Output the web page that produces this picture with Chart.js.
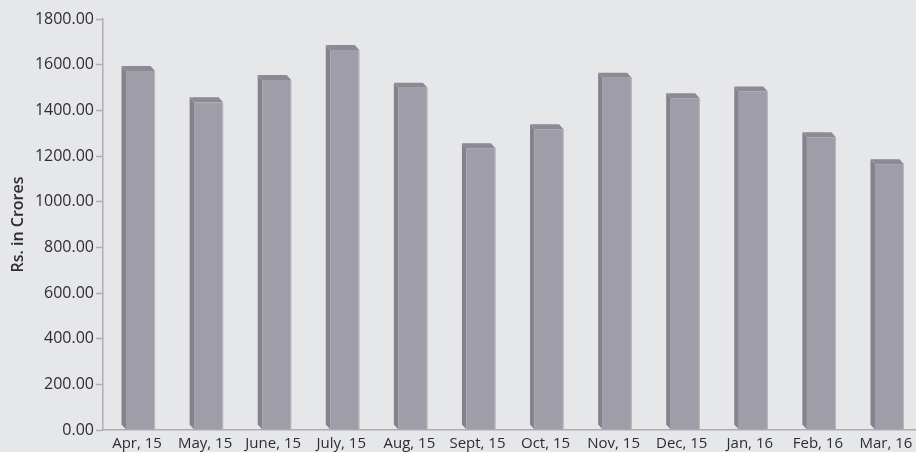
<!DOCTYPE html>
<html>
<head>
<meta charset="utf-8">
<script src="https://cdn.jsdelivr.net/npm/chart.js@4.4.1/dist/chart.umd.min.js"></script>
<style>
  html, body { margin: 0; padding: 0; background: #e6e7e9; }
  #wrap { width: 916px; height: 452px; overflow: hidden; position: relative; }
  #chart { display: block; }
</style>
</head>
<body>
<div id="wrap"><canvas id="chart" width="920" height="452"></canvas></div>
<script>
const months = ["Apr, 15", "May, 15", "June, 15", "July, 15", "Aug, 15", "Sept, 15",
  "Oct, 15", "Nov, 15", "Dec, 15", "Jan, 16", "Feb, 16", "Mar, 16"];
const crores = [1572, 1435, 1533, 1664, 1499, 1234, 1317, 1543, 1453, 1482, 1282, 1164];
const yTicks = [0, 200, 400, 600, 800, 1000, 1200, 1400, 1600, 1800];

const FONT = "'Open Sans', 'Noto Sans', sans-serif";

// draws each bar as a little 3d block: left side, top and front face
const blockPlugin = {
  id: "blocks",
  afterDatasetsDraw(chart) {
    const { ctx } = chart;
    const meta = chart.getDatasetMeta(0);
    const dx = 4.5;
    const dy = 5;
    const shift = 3.5;
    ctx.save();
    meta.data.forEach((bar) => {
      const half = bar.width / 2;
      const l = bar.x - half + shift;
      const r = bar.x + half + shift;
      const top = bar.y;
      const base = bar.base;

      // side
      ctx.fillStyle = "#83828d";
      ctx.beginPath();
      ctx.moveTo(l, top);
      ctx.lineTo(l - dx, top - dy);
      ctx.lineTo(l - dx, base - dy);
      ctx.lineTo(l, base);
      ctx.closePath();
      ctx.fill();

      // top
      ctx.fillStyle = "#8b8a95";
      ctx.beginPath();
      ctx.moveTo(l, top);
      ctx.lineTo(l - dx, top - dy);
      ctx.lineTo(r - dx, top - dy);
      ctx.lineTo(r, top);
      ctx.closePath();
      ctx.fill();

      // front
      ctx.fillStyle = "#9e9da8";
      ctx.fillRect(l, top, r - l, base - top);
      ctx.fillStyle = "#b9b9c1";
      ctx.fillRect(r - 1, top, 1, base - top);
    });
    ctx.restore();
  },
};

new Chart(document.getElementById("chart"), {
  type: "bar",
  data: {
    labels: months,
    datasets: [{
      data: crores,
      backgroundColor: "rgba(0,0,0,0)",
      barThickness: 29,
    }],
  },
  options: {
    responsive: false,
    animation: false,
    layout: { padding: { top: 19, left: 0, right: 0, bottom: 0 } },
    plugins: { legend: { display: false }, tooltip: { enabled: false } },
    scales: {
      x: {
        afterFit: (scale) => { scale.height = 22; },
        grid: { drawOnChartArea: false, drawTicks: false },
        border: { color: "#aeaeb2", width: 1.5 },
        ticks: { color: "#2e2e30", font: { family: FONT, size: 15 }, padding: 5, maxRotation: 0, autoSkip: false },
      },
      y: {
        min: 0,
        max: 1800,
        afterFit: (scale) => { scale.width = 103; },
        afterBuildTicks: (scale) => {
          scale.ticks = yTicks.map((v) => ({ value: v }));
        },
        grid: { drawOnChartArea: false, tickLength: 7, tickColor: "#aeaeb2", tickWidth: 1.5 },
        border: { color: "#aeaeb2", width: 1.5 },
        ticks: {
          color: "#2e2e30",
          font: { family: FONT, size: 16 },
          padding: 2,
          callback: (v) => Number(v).toFixed(2),
        },
        title: {
          display: true,
          text: "Rs. in Crores",
          color: "#2e2e30",
          font: { family: FONT, size: 16, weight: "600" },
          padding: { top: 9, bottom: 0 },
        },
      },
    },
  },
  plugins: [blockPlugin],
});
</script>
</body>
</html>
